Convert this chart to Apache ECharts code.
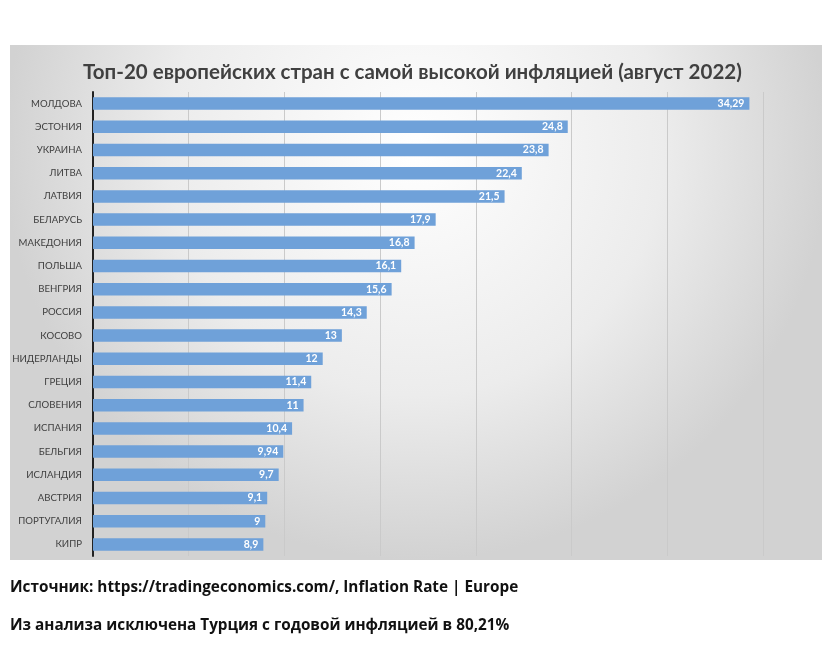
<!DOCTYPE html>
<html><head><meta charset="utf-8">
<script src="https://cdn.jsdelivr.net/npm/echarts@6/dist/echarts.min.js"></script>
<style>html,body{margin:0;padding:0;background:#fff}#c{width:827px;height:649px}</style>
</head><body><div id="c"></div>
<script>
const countries = ["МОЛДОВА","ЭСТОНИЯ","УКРАИНА","ЛИТВА","ЛАТВИЯ","БЕЛАРУСЬ","МАКЕДОНИЯ","ПОЛЬША","ВЕНГРИЯ","РОССИЯ","КОСОВО","НИДЕРЛАНДЫ","ГРЕЦИЯ","СЛОВЕНИЯ","ИСПАНИЯ","БЕЛЬГИЯ","ИСЛАНДИЯ","АВСТРИЯ","ПОРТУГАЛИЯ","КИПР"];
const inflation = [34.29,24.8,23.8,22.4,21.5,17.9,16.8,16.1,15.6,14.3,13,12,11.4,11,10.4,9.94,9.7,9.1,9,8.9];
const titleText = "Топ-20 европейских стран с самой высокой инфляцией (август 2022)";
const sourceText = "Источник: https://tradingeconomics.com/, Inflation Rate | Europe";
const noteText = "Из анализа исключена Турция с годовой инфляцией в 80,21%";

const chart = echarts.init(document.getElementById('c'));
chart.setOption({
  animation:false,
  backgroundColor:'#fff',
  graphic:[
    {type:'rect', z:-10, silent:true, shape:{x:10,y:45,width:812,height:515},
     style:{fill:new echarts.graphic.RadialGradient(0.5,0.2,0.8,[{offset:0,color:'#ffffff'},{offset:0.6,color:'#ececec'},{offset:1,color:'#d2d2d2'}])}},
    {type:'text', left:10, top:580, style:{text:sourceText, font:'bold 15.3px "Open Sans", sans-serif', fill:'#111'}},
    {type:'text', left:10, top:618, style:{text:noteText, font:'bold 15.3px "Open Sans", sans-serif', fill:'#111'}}
  ],
  title:{text:titleText, left:78, top:54,
    textStyle:{fontFamily:'Lato', fontWeight:'bold', fontSize:20.5, lineHeight:26, color:'#404040'}},
  grid:{left:93, right:64, top:92, bottom:93, containLabel:false},
  xAxis:{type:'value', min:0, max:35, interval:5,
    axisLabel:{show:false}, axisLine:{show:false}, axisTick:{show:false},
    splitLine:{lineStyle:{color:'#cacaca', width:1}}},
  yAxis:{type:'category', data:countries, inverse:true,
    axisLine:{lineStyle:{color:'#222', width:2}}, axisTick:{show:false},
    axisLabel:{fontFamily:'Lato', fontSize:9.6, color:'#404040', margin:11}},
  series:[{type:'bar', data:inflation, barCategoryGap:'46%',
    itemStyle:{color:'#6fa1d9'},
    label:{show:true, position:'insideRight', color:'#fff', fontWeight:'bold', fontFamily:'Lato', fontSize:10.5,
      formatter:p=>String(p.value).replace('.',',')}}]
});
</script></body></html>
